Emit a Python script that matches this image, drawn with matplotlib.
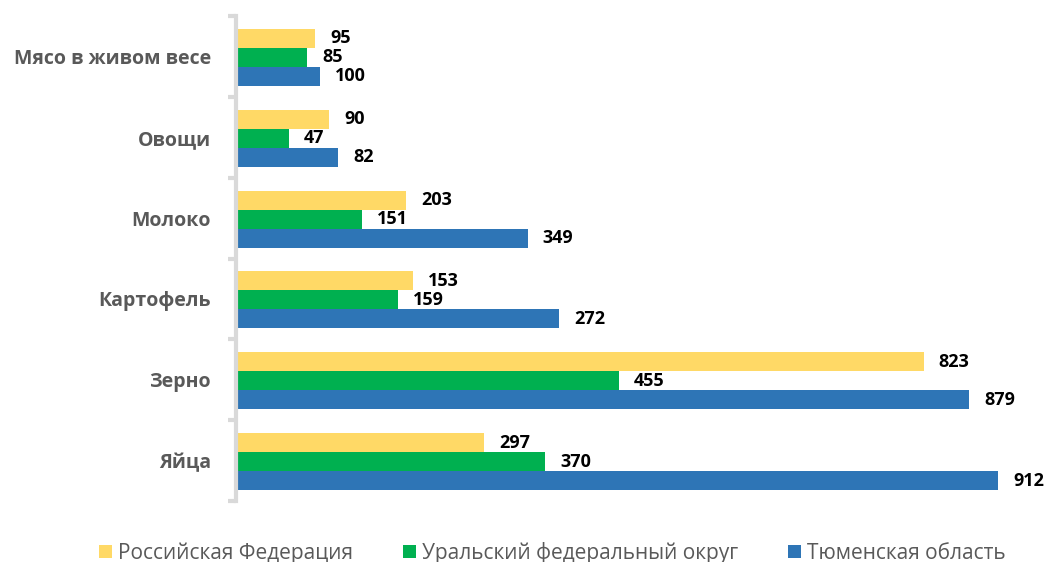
import matplotlib
matplotlib.use("Agg")
import matplotlib.pyplot as plt
import numpy as np

categories = ["Мясо в живом весе", "Овощи", "Молоко", "Картофель", "Зерно", "Яйца"]
series_names = ["Российская Федерация", "Уральский федеральный округ", "Тюменская область"]
colors = ["#FFD966", "#00B050", "#2E75B6"]

# value labels as printed on the chart
russia = [95, 90, 203, 153, 823, 297]
urals = [85, 47, 151, 159, 455, 370]
tyumen = [100, 82, 349, 272, 879, 912]

# bar lengths as drawn in the picture (some differ from the printed labels)
russia_bar = [95, 111, 203, 212, 823, 297]
urals_bar = [85, 63, 151, 194, 458, 370]
tyumen_bar = [100, 122, 349, 387, 877, 912]

plt.rcParams["font.family"] = ["Open Sans", "DejaVu Sans"]

fig = plt.figure(figsize=(10.48, 5.62), dpi=100)
ax = fig.add_axes([236 / 1048, 61 / 562, 1 - 236 / 1048, 485 / 562])

y = np.arange(len(categories))
h = 0.235
handles = []
series = zip([russia_bar, urals_bar, tyumen_bar], [russia, urals, tyumen], colors, series_names)
for k, (bars, labels, col, name) in enumerate(series):
    pos = y + (k - 1) * h + 0.012
    b = ax.barh(pos, bars, height=h, color=col, label=name)
    handles.append(b)
    for p, v, lab in zip(pos, bars, labels):
        ax.annotate(str(lab), (v, p), xytext=(11, 0), textcoords="offset points",
                    va="center", ha="left", fontsize=13, fontweight="bold",
                    color="black")

ax.set_xlim(0, 972)
ax.set_ylim(len(categories) - 0.5, -0.5)
ax.set_xticks([])
ax.set_yticks(y)
ax.set_yticklabels(categories, fontsize=14, fontweight="bold", color="#595959")
ax.tick_params(axis="y", which="major", length=0, pad=18)
ax.set_yticks(np.arange(-0.5, len(categories)), minor=True)
ax.tick_params(axis="y", which="minor", length=5.5, width=3, color="#D9D9D9")
for s in ["top", "right", "bottom"]:
    ax.spines[s].set_visible(False)
ax.spines["left"].set_color("#D9D9D9")
ax.spines["left"].set_linewidth(3)

fig.legend(handles=handles, loc="center", ncol=3, frameon=False,
           bbox_to_anchor=(0.527, 0.016), fontsize=15, handlelength=0.62,
           handleheight=0.62, handletextpad=0.3, columnspacing=2.4,
           labelcolor="#595959")

fig.savefig("out.png", dpi=100)
